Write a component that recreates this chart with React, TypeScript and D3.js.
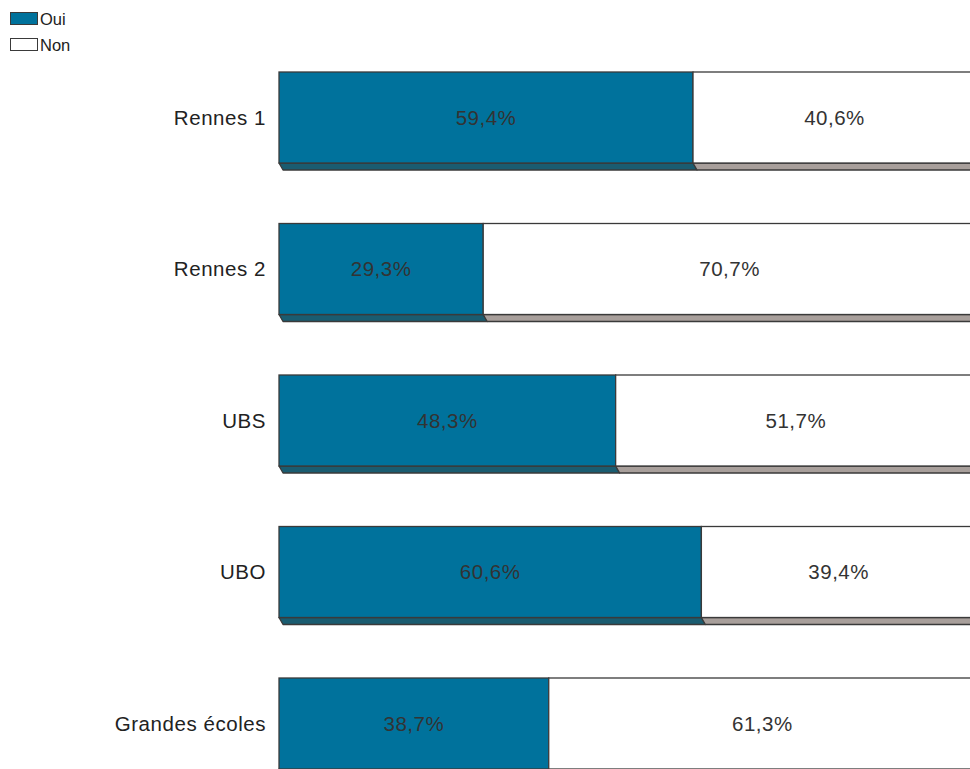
import React from "react";
import * as d3 from "d3";

const categories = ["Rennes 1", "Rennes 2", "UBS", "UBO", "Grandes écoles"];
const oui = [59.4, 29.3, 48.3, 60.6, 38.7];
const non = [40.6, 70.7, 51.7, 39.4, 61.3];
const seriesNames = ["Oui", "Non"];

const W = 970;
const H = 769;
const fmt = (v: number) => v.toFixed(1).replace(".", ",") + "%";

export default function App() {
  const x = d3.scaleLinear().domain([0, 100]).range([279, 976]);
  const bh = 91;
  const dx = 4;
  const dy = 7;
  const colors = { front: ["#00729C", "#FFFFFF"], depth: ["#1A5C70", "#A89F9B"] };
  const stroke = "#3A3A3A";

  return (
    <svg width={W} height={H} style={{ position: "absolute", left: 0, top: 0, fontFamily: "Liberation Sans, Arial, sans-serif" }}>
      <rect x={0} y={0} width={W} height={H} fill="#fff" />
      {seriesNames.map((s, i) => (
        <g key={s}>
          <rect x={10.5} y={12.5 + i * 26} width={27} height={12} fill={colors.front[i]} stroke={stroke} strokeWidth={1} />
          <text x={40} y={25 + i * 26} fontSize={16.5} fill="#222">{s}</text>
        </g>
      ))}
      {categories.map((c, i) => {
        const top = 72 + i * 151.5;
        const segs = [
          { v0: 0, v1: oui[i], k: 0 },
          { v0: oui[i], v1: oui[i] + non[i], k: 1 },
        ];
        return (
          <g key={c}>
            {segs.map((sg) => {
              const x0 = x(sg.v0);
              const x1 = x(sg.v1);
              const b = top + bh;
              return (
                <g key={sg.k}>
                  <path
                    d={`M${x0},${b} L${x1},${b} L${x1 + dx},${b + dy} L${x0 + dx},${b + dy} Z`}
                    fill={colors.depth[sg.k]}
                    stroke={stroke}
                    strokeWidth={1.3}
                    strokeLinejoin="round"
                  />
                  <rect x={x0} y={top} width={x1 - x0} height={bh} fill={colors.front[sg.k]} stroke={stroke} strokeWidth={1.3} />
                  <text
                    x={(x0 + x1) / 2}
                    y={top + bh / 2 + 7}
                    textAnchor="middle"
                    fontSize={20.5}
                    letterSpacing={0.5}
                    fill="#333"
                  >
                    {fmt(sg.v1 - sg.v0)}
                  </text>
                </g>
              );
            })}
            <text x={266} y={top + bh / 2 + 7} textAnchor="end" fontSize={20.5} letterSpacing={0.55} fill="#222">
              {c}
            </text>
          </g>
        );
      })}
    </svg>
  );
}
